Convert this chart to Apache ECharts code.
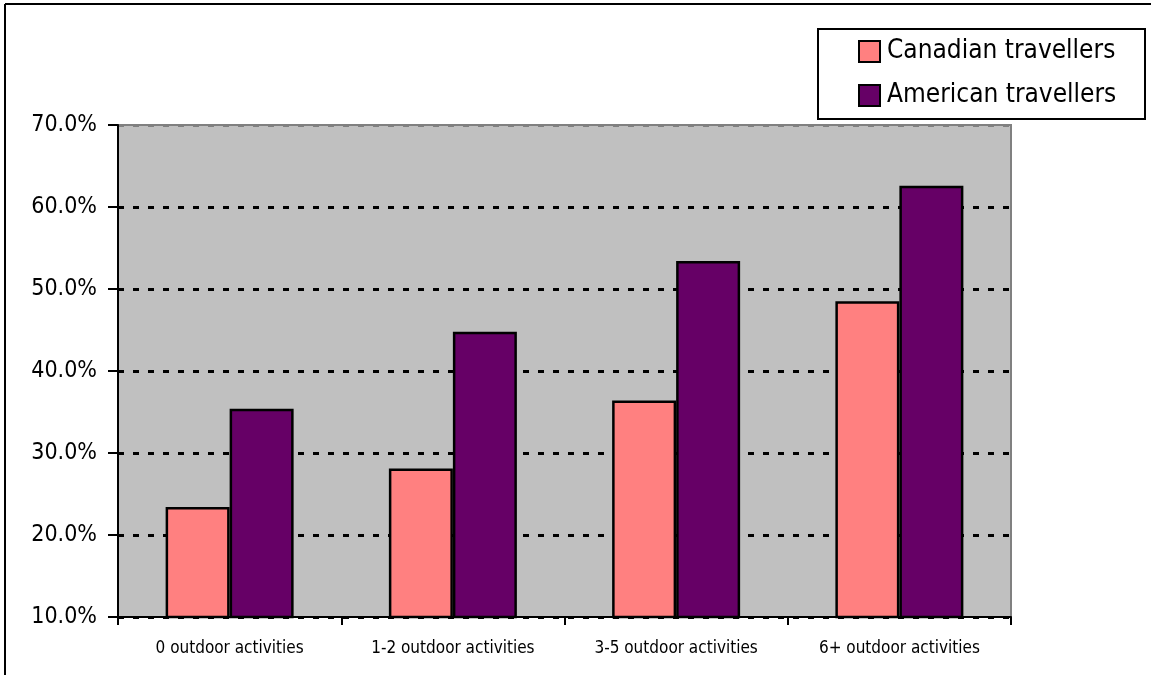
<!DOCTYPE html>
<html>
<head>
<meta charset="utf-8">
<title>Outdoor activities by traveller origin</title>
<script src="https://cdn.jsdelivr.net/npm/echarts@6/dist/echarts.min.js"></script>
<style>
  html, body { margin: 0; padding: 0; background: #ffffff; }
  #chart { width: 1151px; height: 675px; }
</style>
</head>
<body>
<div id="chart"></div>
<script>
// Share of travellers (%) by number of outdoor activities
const categories = ['0 outdoor activities', '1-2 outdoor activities', '3-5 outdoor activities', '6+ outdoor activities'];
const canadianValues = [23.4, 28.1, 36.4, 48.5];
const americanValues = [35.4, 44.8, 53.4, 62.6];
const seriesNames = ['Canadian travellers', 'American travellers'];

const FONT = "'DejaVu Sans Condensed', 'Liberation Sans', sans-serif";

const chart = echarts.init(document.getElementById('chart'), null, { renderer: 'canvas' });

chart.setOption({
  animation: false,
  backgroundColor: '#ffffff',
  textStyle: { fontFamily: FONT, color: '#000' },
  graphic: [
    // outer frame (left and top edges)
    { type: 'line', shape: { x1: 5, y1: 4, x2: 1151, y2: 4 }, style: { stroke: '#000', lineWidth: 2 }, z: 10 },
    { type: 'line', shape: { x1: 5, y1: 4, x2: 5, y2: 675 }, style: { stroke: '#000', lineWidth: 2 }, z: 10 },
    // legend box
    { type: 'rect', shape: { x: 818, y: 29, width: 327, height: 90 }, style: { fill: '#fff', stroke: '#000', lineWidth: 2 }, z: 0 }
  ],
  legend: {
    orient: 'vertical',
    left: 858,
    top: 37,
    itemWidth: 21,
    itemHeight: 21,
    itemGap: 15,
    padding: 0,
    z: 5,
    data: seriesNames.map(n => ({ name: n, icon: 'rect' })),
    itemStyle: { borderColor: '#000', borderWidth: 2 },
    textStyle: { fontFamily: FONT, fontSize: 26, lineHeight: 29, color: '#000', padding: [0, 0, 0, 2] }
  },
  grid: {
    left: 118,
    right: 140,
    top: 125,
    bottom: 58,
    show: true,
    backgroundColor: '#C0C0C0',
    borderColor: '#808080',
    borderWidth: 2
  },
  xAxis: {
    type: 'category',
    data: categories,
    axisLine: { lineStyle: { color: '#000', width: 2 } },
    axisTick: { show: true, length: 8, lineStyle: { color: '#000', width: 2 } },
    axisLabel: { fontFamily: FONT, fontSize: 17, color: '#000', margin: 23, interval: 0 }
  },
  yAxis: {
    type: 'value',
    min: 10,
    max: 70,
    interval: 10,
    axisLine: { show: true, lineStyle: { color: '#000', width: 2 } },
    axisTick: { show: true, length: 10, lineStyle: { color: '#000', width: 2 } },
    axisLabel: {
      fontFamily: FONT, fontSize: 23, color: '#000', margin: 21,
      formatter: v => v.toFixed(1) + '%'
    },
    splitLine: {
      show: true,
      lineStyle: {
        color: ['#000', '#000', '#000', '#000', '#000', '#000', '#808080'],
        width: 3,
        type: [6, 9]
      }
    }
  },
  series: [
    {
      name: seriesNames[0],
      type: 'bar',
      data: canadianValues,
      barWidth: 64,
      barGap: '0%',
      itemStyle: { color: '#FF8080', borderColor: '#000', borderWidth: 2.5 }
    },
    {
      name: seriesNames[1],
      type: 'bar',
      data: americanValues,
      barWidth: 64,
      barGap: '0%',
      itemStyle: { color: '#660066', borderColor: '#000', borderWidth: 2.5 }
    }
  ]
});
</script>
</body>
</html>
